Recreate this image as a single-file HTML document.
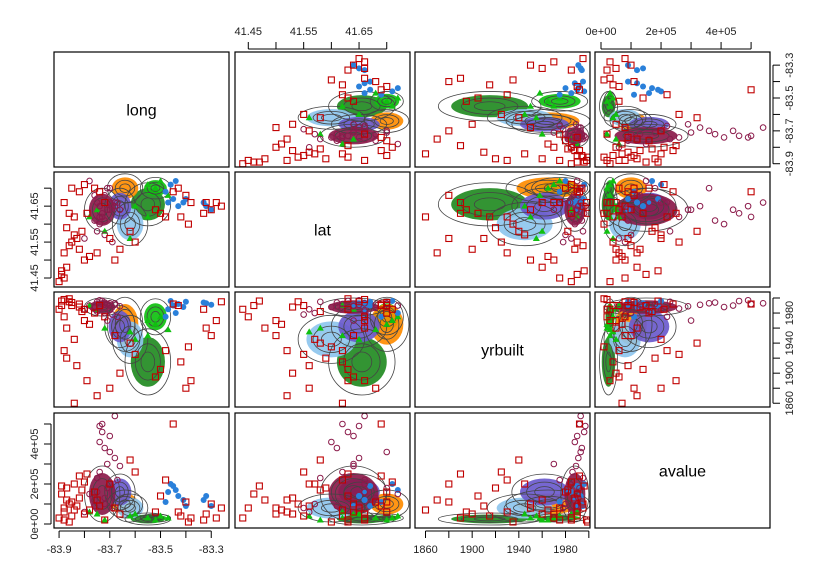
<!DOCTYPE html>
<html><head><meta charset="utf-8"><style>
body{margin:0;background:#fff}
svg{font-family:"Liberation Sans",sans-serif}
</style></head><body>
<svg id="c" width="823" height="582"></svg>
<script>
// variables: long, lat, yrbuilt, avalue (avalue in 1e5 units)
const varNames = ["long","lat","yrbuilt","avalue"];
const varMin = [-83.92, 41.426, 1851, -0.2];
const varMax = [-83.23, 41.742, 2001, 5.63];
const rowMin = [-83.92, 41.425, 1855, -0.2];
const rowMax = [-83.22, 41.745, 2008, 5.55];
const longTicks = [-83.9,-83.8,-83.7,-83.6,-83.5,-83.4,-83.3];
const longLabelVals = [-83.9,-83.7,-83.5,-83.3];
const longLabels = ["-83.9","-83.7","-83.5","-83.3"];
const latTicks = [41.45,41.50,41.55,41.60,41.65,41.70];
const latLabelVals = [41.45,41.55,41.65];
const latLabels = ["41.45","41.55","41.65"];
const yrTicks = [1860,1880,1900,1920,1940,1960,1980,2000];
const yrLabelVals = [1860,1900,1940,1980];
const yrLabels = ["1860","1900","1940","1980"];
const avTicks = [0,1,2,3,4,5];
const avLabelVals = [0,2,4];
const avLabels = ["0e+00","2e+05","4e+05"];
// dense cluster blobs: center and spread per variable
const blobNames = ["green-star","green-tri","orange","lightblue","purple","maroon"];
const blobColors = ["#228B22","#10C010","#FF8C00","#8EC5EE","#6A5ACD","#8B1A4A"];
const blobCenter = [[-83.55,41.655,1915,0.25],[-83.52,41.70,1975,0.3],[-83.64,41.70,1965,1.0],[-83.62,41.60,1945,0.8],[-83.66,41.65,1962,1.6],[-83.73,41.64,1988,1.5]];
const blobSpread = [[0.045,0.03,22,0.15],[0.03,0.015,12,0.1],[0.035,0.02,18,0.35],[0.035,0.03,16,0.35],[0.03,0.025,14,0.45],[0.035,0.03,6,0.7]];
const redSquares = [[-83.90,41.44,1985,0.3],[-83.89,41.46,1990,1.5],[-83.88,41.45,1975,0.8],[-83.87,41.48,1960,1.2],[-83.88,41.52,1930,0.6],[-83.86,41.54,1995,1.0],[-83.85,41.55,1990,0.4],[-83.84,41.57,1945,2.0],[-83.87,41.59,1920,1.8],[-83.83,41.56,1910,0.9],[-83.82,41.53,1988,1.3],[-83.80,41.50,1970,0.5],[-83.78,41.51,1965,0.7],[-83.85,41.70,1994,1.1],[-83.82,41.69,1992,2.4],[-83.80,41.71,1985,2.1],[-83.76,41.70,1980,1.6],[-83.74,41.69,1990,0.9],[-83.72,41.66,1975,0.2],[-83.45,41.69,1992,5.0],[-83.43,41.70,1990,0.6],[-83.40,41.68,1880,1.1],[-83.38,41.66,1890,0.3],[-83.32,41.66,1960,0.5],[-83.30,41.64,1950,1.0],[-83.28,41.66,1970,0.3],[-83.26,41.65,1995,0.8],[-83.33,41.63,1985,0.2],[-83.48,41.62,1930,2.2],[-83.50,41.63,1905,1.4],[-83.52,41.64,1895,0.6],[-83.62,41.58,1940,3.2],[-83.60,41.55,1925,2.6],[-83.66,41.53,1900,0.5],[-83.70,41.56,1880,2.0],[-83.75,41.52,1870,1.2],[-83.42,41.62,1915,0.4],[-83.39,41.60,1935,0.1],[-83.84,41.62,1860,0.7],[-83.79,41.63,1890,2.5],[-83.68,41.50,1950,0.8],[-83.88,41.66,1998,0.2],[-83.86,41.63,1999,0.1],[-83.89,41.47,1996,1.9],[-83.81,41.58,1982,1.7]];
const maroonCircles = [[-83.73,41.62,1992,5.0],[-83.68,41.66,1993,5.4],[-83.70,41.64,1990,4.4],[-83.74,41.60,1988,4.1],[-83.72,41.61,1994,3.8],[-83.68,41.65,1991,3.3],[-83.66,41.64,1989,2.9],[-83.74,41.62,1986,2.6],[-83.75,41.58,1995,2.3],[-83.70,41.66,1984,2.0],[-83.71,41.70,1992,1.8],[-83.78,41.72,1990,1.5],[-83.76,41.68,1987,1.2],[-83.72,41.57,1980,1.0],[-83.69,41.55,1978,0.8],[-83.73,41.63,1996,4.6],[-83.71,41.64,1970,3.0],[-83.67,41.66,1975,2.2],[-83.75,41.66,1982,1.6],[-83.74,41.65,1997,4.9],[-83.70,41.70,1993,3.6],[-83.72,41.68,1991,1.3],[-83.76,41.61,1989,0.9],[-83.80,41.56,1985,0.6]];
const blueCircles = [[-83.47,41.66,1985,1.6],[-83.45,41.67,1990,1.9],[-83.43,41.65,1992,1.4],[-83.41,41.66,1988,1.2],[-83.40,41.67,1995,0.9],[-83.33,41.66,1994,1.2],[-83.32,41.65,1993,1.4],[-83.30,41.64,1991,0.9],[-83.46,41.71,1996,2.0],[-83.44,41.72,1980,1.7],[-83.48,41.69,1975,1.1]];
const greenTriangles = [[-83.55,41.71,1970,0.3],[-83.52,41.70,1965,0.2],[-83.50,41.72,1975,0.4],[-83.47,41.68,1958,0.3],[-83.75,41.64,1985,0.5],[-83.78,41.62,1990,0.6],[-83.72,41.58,1960,0.2],[-83.55,41.62,1950,0.3],[-83.60,41.65,1945,0.5],[-83.62,41.56,1955,0.4]];

const NS="http://www.w3.org/2000/svg";
const svg=document.getElementById('c');
const colX=[54,235,415,595], colW=175, rowY=[52,172,292,413], rowH=115;
function mk(tag,attrs,parent){const e=document.createElementNS(NS,tag);for(const k in attrs)e.setAttribute(k,attrs[k]);(parent||svg).appendChild(e);return e;}
function sx(v,c){return colX[c]+(v-varMin[c])/(varMax[c]-varMin[c])*colW;}
function sy(v,r){return rowY[r]+rowH-(v-rowMin[r])/(rowMax[r]-rowMin[r])*rowH;}

for(let r=0;r<4;r++)for(let c=0;c<4;c++){
  const g=mk('g',{});
  
  
  const cp=mk('clipPath',{id:'cp'+r+c},g);
  mk('rect',{x:colX[c],y:rowY[r],width:colW,height:rowH},cp);
  if(r===c){
    const t=mk('text',{x:colX[c]+colW/2,y:rowY[r]+rowH/2+6,'text-anchor':'middle','font-size':16,fill:'#000'},g);
    t.textContent=varNames[r];
    
    
  } else {
    const inner=mk('g',{'clip-path':'url(#cp'+r+c+')'},g);
    blobCenter.forEach((b,i)=>{
      const cx=sx(b[c],c), cy=sy(b[r],r);
      const rx=Math.abs(sx(b[c]+blobSpread[i][c]*1.5,c)-cx), ry=Math.abs(sy(b[r]+blobSpread[i][r]*1.5,r)-cy);
      const e=mk('ellipse',{cx:cx,cy:cy,rx:rx,ry:ry,fill:blobColors[i],'fill-opacity':0.92},inner);
      
      
    });
    blobCenter.forEach((b,i)=>{
      const cx=sx(b[c],c), cy=sy(b[r],r);
      [0.6,1.1,2.0].forEach(k=>{
        const rx=Math.abs(sx(b[c]+blobSpread[i][c]*k,c)-cx), ry=Math.abs(sy(b[r]+blobSpread[i][r]*k,r)-cy);
        mk('ellipse',{cx:cx,cy:cy,rx:rx,ry:ry,fill:'none',stroke:'#444','stroke-width':0.8},inner);
      });
    });
    greenTriangles.forEach(p=>{const x=sx(p[c],c),y=sy(p[r],r);
      const e=mk('polygon',{points:`${x},${y-3.5} ${x-3.5},${y+2.5} ${x+3.5},${y+2.5}`,fill:'#10C010'},inner);
      
      });
    blueCircles.forEach(p=>{const e=mk('circle',{cx:sx(p[c],c),cy:sy(p[r],r),r:3,fill:'#2A80DA'},inner);
      
      });
    maroonCircles.forEach(p=>{const e=mk('circle',{cx:sx(p[c],c),cy:sy(p[r],r),r:2.8,fill:'none',stroke:'#8B1A4A','stroke-width':1},inner);
      
      });
    redSquares.forEach(p=>{const e=mk('rect',{x:sx(p[c],c)-3,y:sy(p[r],r)-3,width:6,height:6,fill:'none',stroke:'#C00000','stroke-width':1.1},inner);
      
      });
  }
  const fr=mk('rect',{x:colX[c],y:rowY[r],width:colW,height:rowH,fill:'none',stroke:'#000','stroke-width':1.2},g);
  
  
}

function hAxis(c,ticks,vals,labels,top){
  const g=mk('g',{});
  
  
  const y0=top?rowY[0]-3:rowY[3]+rowH+3, d=top?-7:7;
  mk('line',{x1:sx(ticks[0],c),x2:sx(ticks[ticks.length-1],c),y1:y0,y2:y0,stroke:'#000'},g);
  ticks.forEach(t=>{const x=sx(t,c);mk('line',{x1:x,x2:x,y1:y0,y2:y0+d,stroke:'#000'},g);});
  labels.forEach((l,i)=>{const t=mk('text',{x:sx(vals[i],c),y:top?y0-14:y0+22,'text-anchor':'middle','font-size':11,fill:'#222'},g);t.textContent=l;});
}
function vAxis(r,ticks,vals,labels,left){
  const g=mk('g',{});
  
  
  const x0=left?colX[0]-3:colX[3]+colW+3, d=left?-7:7;
  mk('line',{y1:sy(ticks[0],r),y2:sy(ticks[ticks.length-1],r),x1:x0,x2:x0,stroke:'#000'},g);
  ticks.forEach(t=>{const y=sy(t,r);mk('line',{y1:y,y2:y,x1:x0,x2:x0+d,stroke:'#000'},g);});
  labels.forEach((l,i)=>{const y=sy(vals[i],r),x=left?x0-13:x0+20;
    const t=mk('text',{x:x,y:y,'text-anchor':'middle','font-size':11,fill:'#222',transform:`rotate(-90 ${x} ${y})`},g);t.textContent=l;});
}
hAxis(0,longTicks,longLabelVals,longLabels,false);
hAxis(2,yrTicks,yrLabelVals,yrLabels,false);
hAxis(1,latTicks,latLabelVals,latLabels,true);
hAxis(3,avTicks,avLabelVals,avLabels,true);
vAxis(0,longTicks,longLabelVals,longLabels,false);
vAxis(2,yrTicks,yrLabelVals,yrLabels,false);
vAxis(1,latTicks,latLabelVals,latLabels,true);
vAxis(3,avTicks,avLabelVals,avLabels,true);
</script>
</body></html>
